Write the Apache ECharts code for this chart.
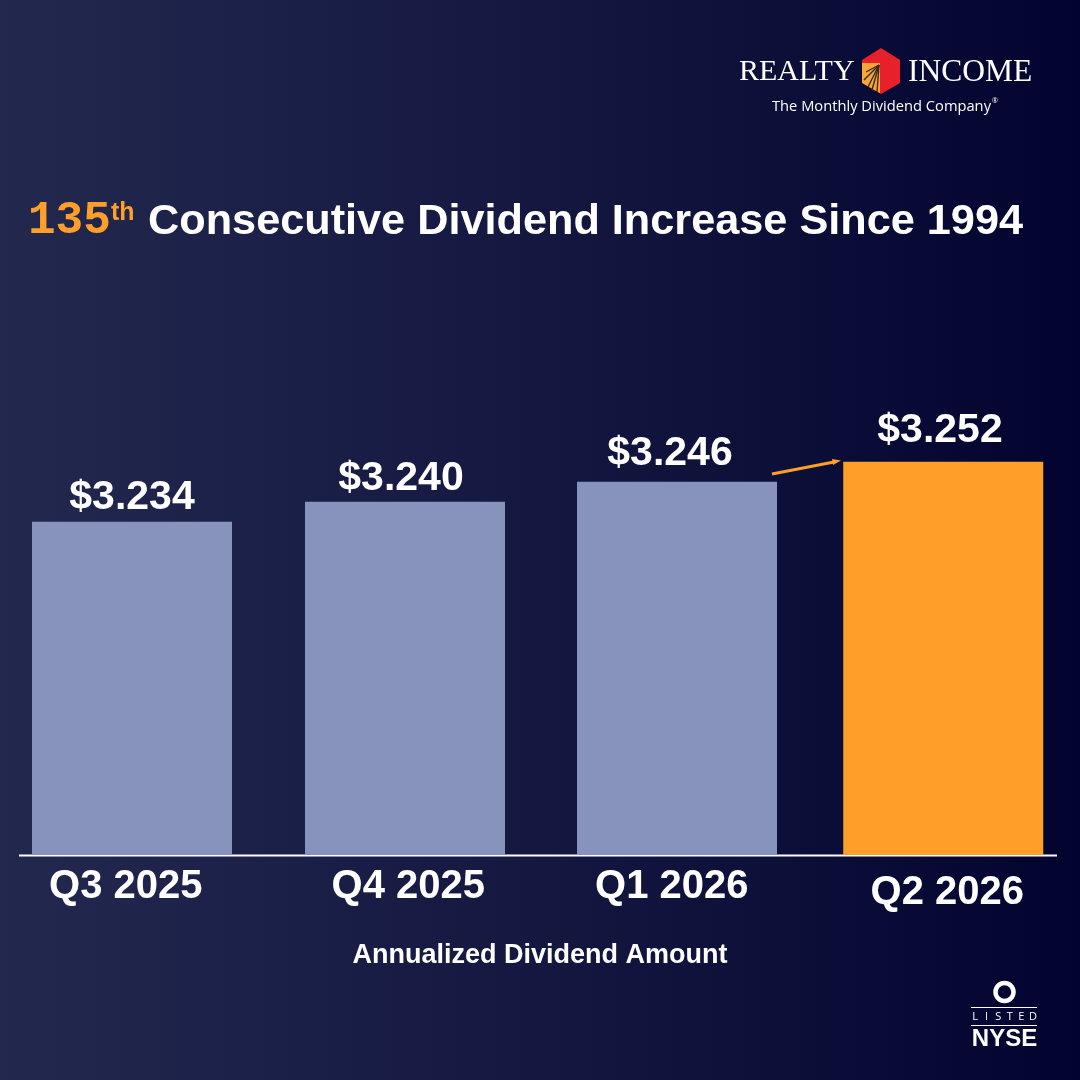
<!DOCTYPE html>
<html><head><meta charset="utf-8">
<style>html,body{margin:0;padding:0;background:#02042f}#c{width:1080px;height:1080px}</style>
<script src="https://cdn.jsdelivr.net/npm/echarts@6/dist/echarts.min.js"></script></head>
<body><div id="c"></div>
<script>
const categories = ['Q3 2025','Q4 2025','Q1 2026','Q2 2026'];
const dividends = [3.234,3.240,3.246,3.252];
const titleNumber = '135', titleSuffix = 'th', titleText = 'Consecutive Dividend Increase Since 1994';
const axisName = 'Annualized Dividend Amount';

const BLUE='#8793BC', ORANGE='#FF9E28', WHITE='#ffffff';
const barColors=[BLUE,BLUE,BLUE,ORANGE];
const barNudge=[-2.75,0.75,3.25,0];
const labelNudge=[-2.75,-3.25,-3.75,-3.25];
const labelLift=[24,23,28,31];
const catPad=[[0,18,0,0],[0,0,0,8],[0,4,0,0],[6,0,0,8]];
const SANS='"Liberation Sans", Arial, sans-serif';

const rich={};
categories.forEach((c,i)=>{rich['c'+i]={color:WHITE,fontFamily:SANS,fontWeight:'bold',fontSize:40,padding:catPad[i]};});

const rays=[[866,72],[864,80],[868,87],[872,90],[877,92]];
const chart=echarts.init(document.getElementById('c'),null,{renderer:'canvas'});
chart.setOption({
  animation:false,
  backgroundColor:new echarts.graphic.LinearGradient(0,0,1,0,[{offset:0,color:'#23284F'},{offset:.5,color:'#141840'},{offset:1,color:'#02042F'}]),
  title:[{
    text:titleNumber,left:28,top:198,padding:0,
    textStyle:{color:ORANGE,fontFamily:'"Liberation Mono", monospace',fontWeight:'bold',fontSize:46}
  },{
    text:titleSuffix,left:111,top:201,padding:0,
    textStyle:{color:ORANGE,fontFamily:SANS,fontWeight:'bold',fontSize:25}
  },{
    text:titleText,left:148,top:201,padding:0,
    textStyle:{color:WHITE,fontFamily:SANS,fontWeight:'bold',fontSize:43.25}
  },{
    text:axisName,left:'center',top:942,padding:0,
    textStyle:{color:WHITE,fontFamily:SANS,fontWeight:'bold',fontSize:27}
  }],
  grid:{left:0,right:2,top:55,bottom:225,containLabel:false},
  xAxis:{type:'category',data:categories,axisLine:{show:false},axisTick:{show:false},
    axisLabel:{interval:0,margin:12,formatter:(v,i)=>`{c${i}|${v}}`,rich}},
  yAxis:{type:'value',min:3.134,max:3.374,show:false,splitLine:{show:false}},
  series:[{
    type:'custom',
    clip:false,
    data:categories.map((c,i)=>[i,dividends[i]]),
    encode:{x:0,y:1},
    renderItem:(p,api)=>{
      const i=api.value(0),v=api.value(1);
      const top=api.coord([i,v]),base=api.coord([i,3.134]);
      const w=200;
      return {type:'group',children:[
        {type:'rect',shape:{x:top[0]+barNudge[i]-w/2,y:top[1],width:w,height:base[1]-top[1]},style:{fill:barColors[i]}},
        {type:'text',x:top[0]+labelNudge[i],y:top[1]-labelLift[i],style:{text:'$'+v.toFixed(3),fill:WHITE,font:'bold 41px '+SANS,textAlign:'center',textVerticalAlign:'middle',align:'center',verticalAlign:'middle'}}
      ]};
    }
  }],
  graphic:[
    {type:'line',shape:{x1:19,y1:855.5,x2:1057,y2:855.5},style:{stroke:WHITE,lineWidth:2}},
    {type:'line',shape:{x1:772,y1:474,x2:834,y2:462},style:{stroke:ORANGE,lineWidth:3}},
    {type:'polygon',shape:{points:[[841,460.5],[832,459],[833,465]]},style:{fill:ORANGE}},
    // logo
    {type:'polygon',shape:{points:[[881,48],[900,60],[900,83],[881,94],[862,83],[862,60]]},style:{fill:'#E8202C'}},
    {type:'polygon',shape:{points:[[862,63],[880,63],[880,93],[862,83]]},style:{fill:'#F6A735'}},
    ...rays.map(r=>({type:'line',shape:{x1:879,y1:65,x2:r[0],y2:r[1]},style:{stroke:'#3A2A20',lineWidth:1.4}})),
    {type:'text',x:739,y:72,style:{text:'REALTY',fill:WHITE,font:'30px "Liberation Serif", serif',textVerticalAlign:'middle',verticalAlign:'middle'}},
    {type:'text',x:908,y:73,style:{text:'INCOME',fill:WHITE,font:'31.5px "Liberation Serif", serif',textVerticalAlign:'middle',verticalAlign:'middle'}},
    {type:'text',x:772,y:107,style:{text:'The Monthly Dividend Company',fill:WHITE,font:'14.7px "Open Sans", sans-serif',textVerticalAlign:'middle',verticalAlign:'middle'}},
    {type:'text',x:992,y:101,style:{text:'®',fill:WHITE,font:'7px "Open Sans", sans-serif',textVerticalAlign:'middle',verticalAlign:'middle'}},
    // NYSE
    {type:'circle',shape:{cx:1004.5,cy:992,r:9},style:{fill:'none',stroke:WHITE,lineWidth:4.5}},
    {type:'line',shape:{x1:971,y1:1007.5,x2:1037,y2:1007.5},style:{stroke:WHITE,lineWidth:1}},
    {type:'line',shape:{x1:971,y1:1025.5,x2:1037,y2:1025.5},style:{stroke:WHITE,lineWidth:1}},
    ...'LISTED'.split('').map((ch,i)=>({type:'text',x:975+i*11.6,y:1017,style:{text:ch,fill:WHITE,font:'11px "Open Sans", sans-serif',textAlign:'center',align:'center',textVerticalAlign:'middle',verticalAlign:'middle'}})),
    {type:'text',x:1004.5,y:1039,style:{text:'NYSE',fill:WHITE,font:'bold 24px "Liberation Sans", sans-serif',textAlign:'center',align:'center',textVerticalAlign:'middle',verticalAlign:'middle'}}
  ]
});
</script></body></html>
